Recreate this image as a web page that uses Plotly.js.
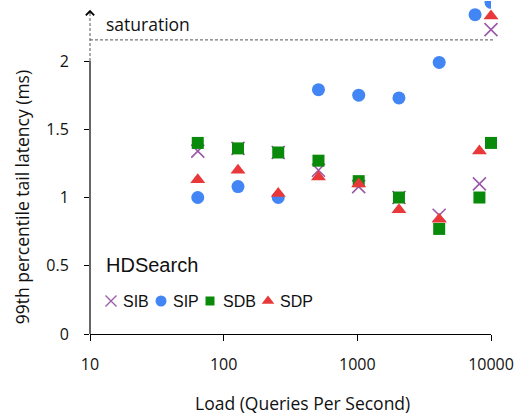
<!DOCTYPE html>
<html><head><meta charset="utf-8">
<script src="https://cdn.plot.ly/plotly-3.0.1.min.js"></script>
<style>html,body{margin:0;padding:0;background:#fff}#chart{width:518px;height:414px}</style>
</head><body><div id="chart"></div>
<script>
const loads = [64, 128, 256, 512, 1024, 2048, 4096, 8192, 10000];
const sib = [1.34, 1.36, 1.33, 1.20, 1.08, 1.00, 0.87, 1.10, 2.23];
const sip = [1.00, 1.08, 1.00, 1.79, 1.75, 1.73, 1.99, 2.34, 2.43];
const sdb = [1.40, 1.36, 1.33, 1.27, 1.12, 1.00, 0.77, 1.00, 1.40];
const sdp = [1.13, 1.20, 1.03, 1.15, 1.10, 0.91, 0.84, 1.34, 2.33];
const sipX = [64, 128, 256, 512, 1024, 2048, 4096, 7600, 10000];
const seriesNames = ['SIB', 'SIP', 'SDB', 'SDP'];
const yTicks = [0, 0.5, 1, 1.5, 2];
const xTicks = [10, 100, 1000, 10000];
const saturation = 2.155;

const colors = ['#9b59a8', '#4285f4', '#0a8a0a', '#e8383a'];
const symbols = ['x-thin-open', 'circle', 'square', 'triangle-up'];
const sizes = [13, 13, 12, 13];
const legSizes = [11, 11, 9, 11];
const xs = [loads, sipX, loads, loads];
const ys = [sib, sip, sdb, sdp];

const traces = seriesNames.map((n, i) => ({
  name:n, x:xs[i], y:ys[i], type:'scatter', mode:'markers', cliponaxis: i === 1,
  showlegend:false,
  marker:{symbol:symbols[i], size:sizes[i], color:colors[i],
    line: i === 0 ? {width:1.6, color:colors[i]} : {width:0}}
}));

// manual legend on a pixel-like overlay axis pair
const legX = [111, 161, 210, 268];
const legTextX = [121, 171, 221, 278];
const legY = 301;
seriesNames.forEach((n, i) => {
  traces.push({x:[legX[i]], y:[legY], xaxis:'x2', yaxis:'y2', type:'scatter', mode:'markers',
    showlegend:false, hoverinfo:'skip', cliponaxis:false,
    marker:{symbol:symbols[i], size:legSizes[i], color:colors[i],
      line: i === 0 ? {width:1.3, color:colors[i]} : {width:0}}});
});

const legAnn = seriesNames.map((n, i) => ({xref:'x2', yref:'y2', x:legTextX[i], y:legY, xanchor:'left', yanchor:'middle',
  text:n, showarrow:false, font:{family:'Liberation Sans, Arial, sans-serif', size:16, color:'#111'}}));

const layout = {
  width:518, height:414,
  margin:{l:90, r:27, t:1, b:80},
  paper_bgcolor:'#fff', plot_bgcolor:'rgba(0,0,0,0)',
  font:{family:'Open Sans, sans-serif', size:16, color:'#111'},
  showlegend:false,
  xaxis:{type:'log', range:[1,4], tickvals:xTicks, ticktext:xTicks.map(String),
    showgrid:false, zeroline:false, showline:true, linecolor:'#000', linewidth:1.2,
    ticks:'outside', ticklen:6, tickcolor:'#000', ticklabelstandoff:10,
    tickfont:{size:16}},
  yaxis:{range:[0,2.44], tickvals:yTicks, ticktext:yTicks.map(String),
    showgrid:false, zeroline:false, showline:false,
    ticks:'outside', ticklen:5, tickcolor:'#000', ticklabelstandoff:12,
    tickfont:{size:16}},
  xaxis2:{overlaying:'x', range:[90,491], visible:false, fixedrange:true},
  yaxis2:{overlaying:'y', range:[334,1], visible:false, fixedrange:true},
  shapes:[
    {type:'line', xref:'paper', yref:'y', x0:0, x1:0, y0:0, y1:2, line:{color:'#000', width:1.2}},
    {type:'line', xref:'paper', yref:'y', x0:0, x1:0, y0:2, y1:2.36, line:{color:'#555', width:1, dash:'3px,2px'}},
    {type:'line', xref:'paper', yref:'y', x0:0, x1:1.005, y0:saturation, y1:saturation, line:{color:'#555', width:1, dash:'3px,2px'}}
  ],
  annotations:[
    {xref:'paper', yref:'y', x:0, y:2.375, ax:0, ay:5, text:'', showarrow:true, arrowhead:4, arrowsize:1.6, arrowwidth:1, arrowcolor:'#000'},
    {xref:'paper', yref:'y', x:0.035, y:2.27, xanchor:'left', yanchor:'middle', text:'saturation', showarrow:false, font:{size:17.5, color:'#111'}},
    {xref:'paper', yref:'paper', x:0.035, y:0.207, xanchor:'left', yanchor:'middle', text:'HDSearch', showarrow:false, font:{family:'Liberation Sans, Arial, sans-serif', size:20, color:'#111'}},
    {xref:'paper', yref:'y', x:-0.17, y:1.0, xanchor:'center', yanchor:'middle', textangle:-90, text:'99th percentile tail latency (ms)', showarrow:false, font:{size:17.5, color:'#111'}},
    {xref:'paper', yref:'paper', x:0.529, y:-0.207, xanchor:'center', yanchor:'middle', text:'Load (Queries Per Second)', showarrow:false, font:{size:17.5, color:'#111'}}
  ].concat(legAnn)
};
Plotly.newPlot('chart', traces, layout, {displayModeBar:false, staticPlot:true});
</script></body></html>
